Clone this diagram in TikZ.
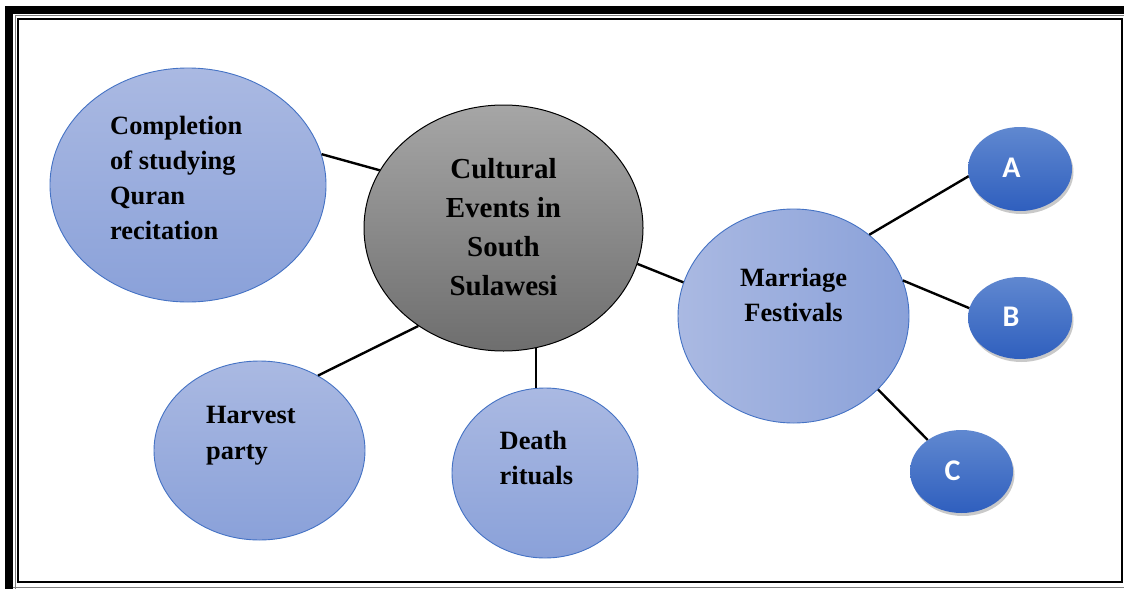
\documentclass[tikz,border=0pt]{standalone}
\usepackage{fontspec}
\setmainfont{Liberation Serif}
\newfontfamily\abcfont{Carlito}
\usetikzlibrary{shapes.geometric,shadows}
\definecolor{btop}{HTML}{AAB9E2}
\definecolor{bbot}{HTML}{8AA1D9}
\definecolor{bord}{HTML}{4472C4}
\definecolor{gtop}{HTML}{A6A6A6}
\definecolor{gbot}{HTML}{6E6E6E}
\definecolor{ctop}{HTML}{6088D0}
\definecolor{cbot}{HTML}{2F5FBE}
\begin{document}
\begin{tikzpicture}[x=1pt,y=-1pt,
  bubble/.style={ellipse, draw=bord, line width=0.9pt, inner sep=0pt, top color=btop, bottom color=bbot},
  hub/.style={ellipse, draw=black, line width=1pt, inner sep=0pt, top color=gtop, bottom color=gbot},
  letterbub/.style={ellipse, draw=none, inner sep=0pt, top color=ctop, bottom color=cbot,
     drop shadow={shadow xshift=1.5pt, shadow yshift=-3pt, opacity=0.3, fill=black!70}},
  lbl/.style={inner sep=0pt, font=\fontsize{26.4}{35}\selectfont\bfseries, align=left},
  hublbl/.style={inner sep=0pt, font=\fontsize{29}{38.7}\selectfont\bfseries, align=center},
  abc/.style={inner sep=0pt, text=white, font=\fontsize{30}{32}\selectfont\abcfont\bfseries},
  link/.style={line width=2.4pt, black}]
\useasboundingbox (0,0) rectangle (1124,589);
% page border
\fill[black] (5,6) rectangle (1124,14);
\fill[black] (5,6) rectangle (13,589);
\draw[gray, line width=1pt] (15,15.5) -- (1124,15.5);
\draw[gray, line width=1pt] (15,15.5) -- (15,589);
\draw[black, line width=2pt] (18,19) rectangle (1122,582);
\draw[gray, line width=1.5pt] (13,587.5) -- (1124,587.5);

% bubbles
\node[bubble, minimum width=276pt, minimum height=234pt] (comp) at (188,185) {};
\node[hub, minimum width=279pt, minimum height=246pt] (cen) at (503.5,228) {};
\node[bubble, minimum width=211pt, minimum height=179pt] (harv) at (259.5,450.5) {};
\node[bubble, minimum width=186pt, minimum height=170pt] (death) at (545,473) {};
\node[ellipse, draw=bord, line width=0.9pt, inner sep=0pt, left color=btop, right color=bbot,
      minimum width=231pt, minimum height=214pt] (marr) at (793.5,316) {};
\node[letterbub, minimum width=104pt, minimum height=84pt] (a) at (1020,169) {};
\node[letterbub, minimum width=104pt, minimum height=82pt] (b) at (1020,318) {};
\node[letterbub, minimum width=103pt, minimum height=83pt] (c) at (961.5,471.5) {};

% labels (base anchor = baseline of the last line)
\node[lbl, anchor=base west] (compT) at (110,239) {Completion\\of studying\\Quran\\recitation};
\node[hublbl, anchor=base] (cenT) at (503.5,295) {Cultural\\Events in\\South\\Sulawesi};
\node[lbl, anchor=base west, font=\fontsize{26.4}{36}\selectfont\bfseries] (harvT) at (206,459) {Harvest\\party};
\node[lbl, anchor=base west] (deathT) at (499.5,484) {Death\\rituals};
\node[lbl, align=center, anchor=base] (marrT) at (793.5,321) {Marriage\\Festivals};
\node[abc, anchor=base] (aT) at (1011.5,177.3) {A};
\node[abc, anchor=base] (bT) at (1011,326.7) {B};
\node[abc, anchor=base] (cT) at (952.5,480) {C};

% connectors
\draw[link] (comp.13.6) -- (cen.155.8);
\draw[link] (cen.229.3) -- (harv.52.3);
\draw[link] (cen.285) -- (cen.285 |- death.96);
\draw[link] (cen.345.9) -- (marr.163);
\draw[link] (marr.47.4) -- (a.188.7);
\draw[link] (marr.18.2) -- (b.169);
\draw[link] (marr.319.6) -- (c.137.9);
\end{tikzpicture}
\end{document}
